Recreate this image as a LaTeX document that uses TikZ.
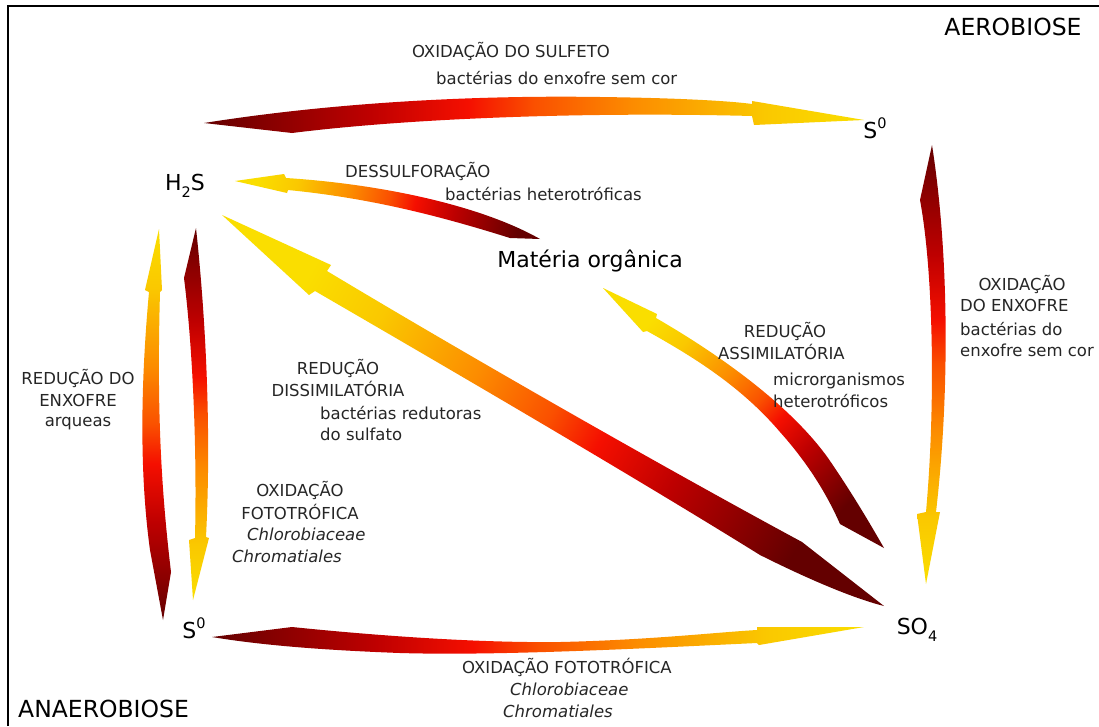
\documentclass[tikz,border=0pt]{standalone}
\usepackage{fontspec}
\setmainfont{DejaVu Sans}
\definecolor{g0}{RGB}{100,0,0}
\definecolor{g1}{RGB}{190,0,0}
\definecolor{g2}{RGB}{245,15,0}
\definecolor{g3}{RGB}{250,80,0}
\definecolor{g4}{RGB}{252,140,0}
\definecolor{g5}{RGB}{250,200,0}
\definecolor{g6}{RGB}{250,222,0}
\pgfdeclarehorizontalshading{sulf}{100bp}{color(0bp)=(g0); color(25bp)=(g0); color(37.5bp)=(g1); color(45bp)=(g2); color(50bp)=(g3); color(57.5bp)=(g4); color(67.5bp)=(g5); color(75bp)=(g6); color(100bp)=(g6)}
\newcommand\mysub[1]{\raisebox{-0.3em}{\fontsize{14.5}{14.5}\selectfont #1}}
\newcommand\mysup[1]{\raisebox{0.45em}{\fontsize{14.5}{14.5}\selectfont #1}}
\tikzset{
  sm/.style={font=\fontsize{16.5}{19}\selectfont, inner sep=0pt, text=black!85},
  smi/.style={font=\fontsize{16.5}{19}\selectfont\itshape, inner sep=0pt, text=black!85},
  bg/.style={font=\fontsize{22}{25}\selectfont, inner sep=0pt},
  zone/.style={font=\fontsize{23.5}{26}\selectfont, inner sep=0pt},
  swoosh/.style={shading=sulf, shading angle=#1},
}
\begin{document}
\begin{tikzpicture}[x=1pt,y=-1pt]
\useasboundingbox (0,0) rectangle (1099,726);
\fill[white] (0,0) rectangle (1099,726);
\draw[line width=1.2pt] (8,726) -- (8,6) -- (1099,6);

% arrows
% A1 top: H2S -> S0
\shade[swoosh=0] (204,123) .. controls (330,103) and (470,95) .. (600,97)
 .. controls (680,98) and (730,101) .. (752,104)
 -- (752,101) -- (864,120) -- (754,125) -- (752,116)
 .. controls (600,112) and (420,117) .. (292,133) -- cycle;
% A6 bottom: S0 -> SO4
\shade[swoosh=0] (212,637) -- (292,627) .. controls (380,636) and (480,643) .. (560,642)
 .. controls (650,640) and (720,632) .. (757,630)
 -- (757,627) -- (864,627) -- (759,645) -- (757,643)
 .. controls (650,648) and (500,656) .. (400,653)
 .. controls (320,650) and (260,645) .. cycle;
% A2 desulf: organic -> H2S
\shade[swoosh=169] (235,181) -- (284,174) -- (286,178)
 .. controls (380,184) and (480,205) .. (540,239)
 -- (510,238)
 .. controls (440,216) and (370,198) .. (288,190)
 -- (287,193) -- cycle;
% A3 left up: S0 -> H2S
\shade[swoosh=90] (159,229) -- (162,290) -- (160,292)
 .. controls (157,400) and (160,480) .. (171,572)
 -- (163,620)
 -- (150,550) .. controls (139,470) and (141,380) .. (149,292)
 -- (145,290) -- cycle;
% A4 left down: H2S -> S0
\shade[swoosh=-90] (196,228) .. controls (207,330) and (211,440) .. (206,537)
 -- (209,538) -- (193,600) -- (189,540) -- (195,538)
 .. controls (197,450) and (193,350) .. (184,278) -- cycle;
% A5 right down: S0 -> SO4
\shade[swoosh=-90] (932,145) .. controls (950,260) and (949,400) .. (936,512)
 -- (940,512) -- (926,584) -- (917,514) -- (926,512)
 .. controls (936,400) and (933,270) .. (920,200) -- cycle;
% A7 dissimilatory: SO4 -> H2S
\shade[swoosh=150] (222,215) -- (331,265) -- (327,271)
 .. controls (450,345) and (650,460) .. (802,542)
 -- (884,606)
 .. controls (860,600) and (820,585) .. (760,555)
 .. controls (620,468) and (420,352) .. (315,291)
 -- (309,295) -- cycle;
% A8 assimilatory: SO4 -> organic
\shade[swoosh=137] (603,288) -- (657,314) -- (656,318)
 .. controls (720,355) and (790,405) .. (828,458)
 .. controls (850,490) and (868,520) .. (884,548)
 -- (840,524)
 .. controls (825,490) and (805,460) .. (780,432)
 .. controls (740,385) and (690,355) .. (647,331)
 -- (643,332) -- cycle;

% nodes
\node[zone] (aer) at (1013,27) {AEROBIOSE};
\node[zone, anchor=west] (ana) at (18,709) {ANAEROBIOSE};
\node[bg] (h2s) at (185,186) {H\mysub{2}S};
\node[bg] (s0a) at (875,128) {S\mysup{0}};
\node[bg] (s0b) at (194,628) {S\mysup{0}};
\node[bg] (so4) at (917,630) {SO\mysub{4}};
\node[bg] (mo) at (590,261) {Matéria orgânica};

\node[sm] (l1a) at (511,51) {OXIDAÇÃO DO SULFETO};
\node[sm, anchor=west] (l1b) at (436,78) {bactérias do enxofre sem cor};
\node[sm, anchor=west] (l2a) at (345,171) {DESSULFORAÇÃO};
\node[sm, anchor=west] (l2b) at (445,194) {bactérias heterotróficas};
\node[sm] (l3a) at (1022,284) {OXIDAÇÃO};
\node[sm, anchor=west] (l3b) at (960,305) {DO ENXOFRE};
\node[sm, anchor=west] (l3c) at (960,329) {bactérias do};
\node[sm, anchor=west] (l3d) at (960,350) {enxofre sem cor};
\node[sm] (l4a) at (785,331) {REDUÇÃO};
\node[sm, anchor=west] (l4b) at (718,352) {ASSIMILATÓRIA};
\node[sm, anchor=west] (l4c) at (773,381) {microrganismos};
\node[sm, anchor=west] (l4d) at (773,401) {heterotróficos};
\node[sm] (l5a) at (78,378) {REDUÇÃO DO};
\node[sm] (l5b) at (78,400) {ENXOFRE};
\node[sm] (l5c) at (78,424) {arqueas};
\node[sm] (l6a) at (338,368) {REDUÇÃO};
\node[sm] (l6b) at (338,389) {DISSIMILATÓRIA};
\node[sm, anchor=west] (l6c) at (320,413) {bactérias redutoras};
\node[sm, anchor=west] (l6d) at (320,434) {do sulfato};
\node[sm] (l7a) at (300,490) {OXIDAÇÃO};
\node[sm] (l7b) at (300,512) {FOTOTRÓFICA};
\node[smi, anchor=west] (l7c) at (247,534) {Chlorobiaceae};
\node[smi, anchor=west] (l7d) at (232,556) {Chromatiales};
\node[sm, anchor=west] (l8a) at (462,667) {OXIDAÇÃO FOTOTRÓFICA};
\node[smi, anchor=west] (l8b) at (510,689) {Chlorobiaceae};
\node[smi, anchor=west] (l8c) at (503,711) {Chromatiales};
\end{tikzpicture}
\end{document}
